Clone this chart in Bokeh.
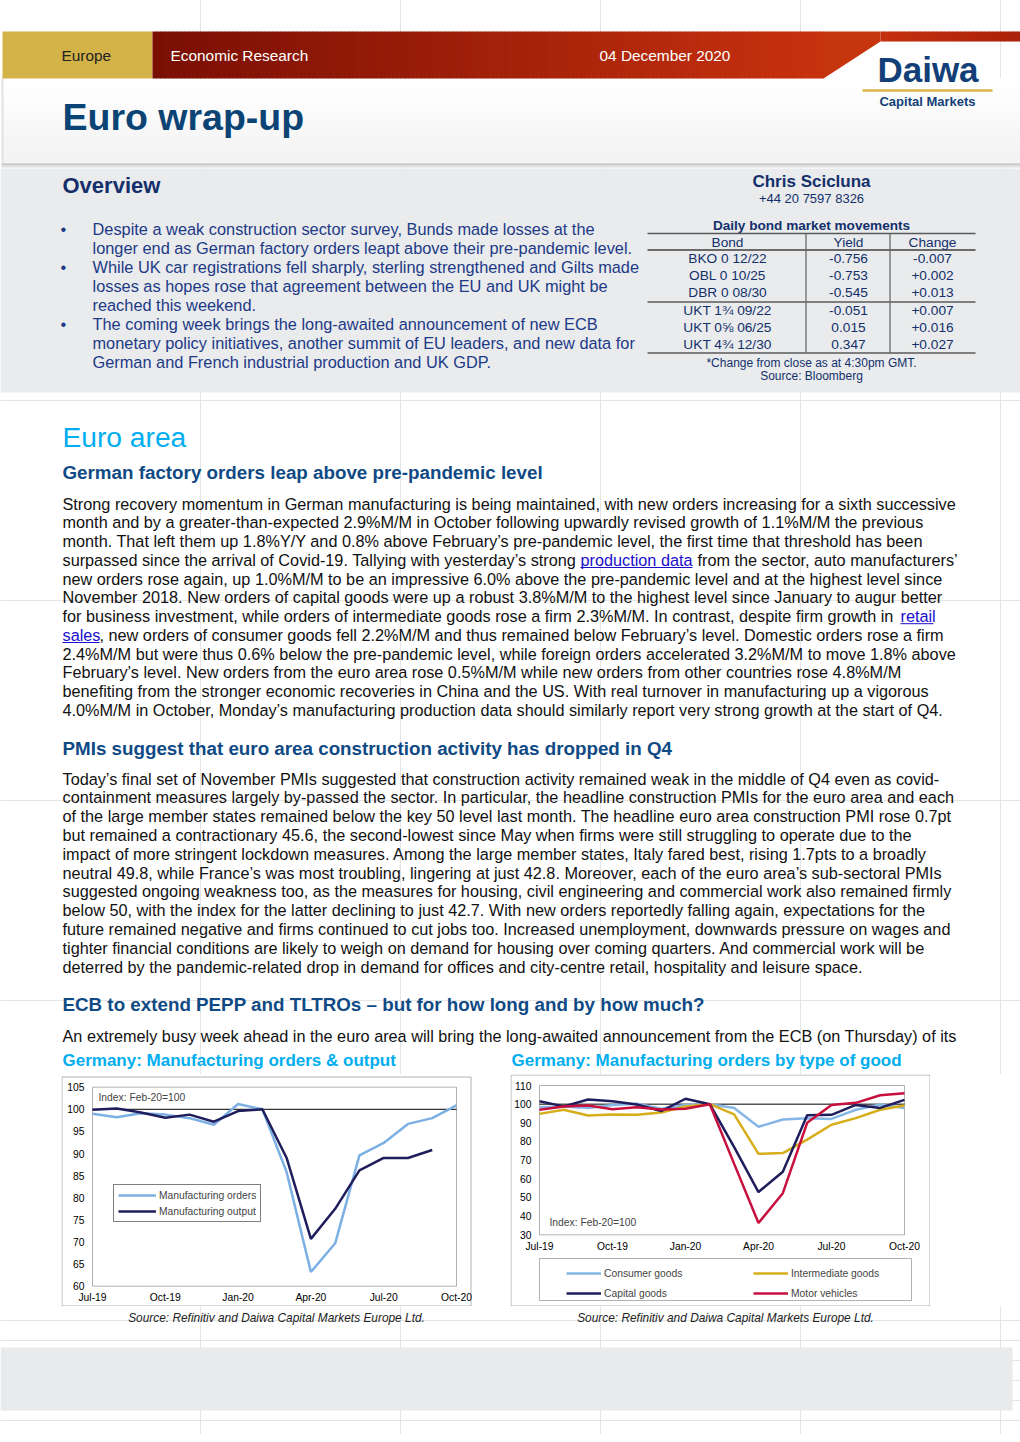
from bokeh.plotting import figure
from bokeh.models import (Range1d, FixedTicker, Legend, LegendItem, Label,
                          BoxAnnotation, Spacer)
from bokeh.layouts import column, row
from bokeh.core.properties import value
from bokeh.embed import file_html
from bokeh.resources import INLINE

# ---------------- data ----------------
months = ["Jul-19", "Aug-19", "Sep-19", "Oct-19", "Nov-19", "Dec-19", "Jan-20", "Feb-20",
          "Mar-20", "Apr-20", "May-20", "Jun-20", "Jul-20", "Aug-20", "Sep-20", "Oct-20"]

mfg_orders = [99.0, 98.2, 99.1, 98.8, 98.0, 96.5, 101.2, 100.0, 85.8, 63.2, 69.7, 89.6, 92.4, 96.7, 98.0, 100.9]
mfg_output = [99.9, 100.2, 99.3, 98.1, 98.8, 97.2, 99.6, 100.0, 89.0, 70.7, 77.5, 86.2, 89.0, 89.0, 90.8]

consumer_goods = [98.4, 98.7, 98.0, 99.6, 100.2, 97.5, 99.6, 100.0, 98.0, 87.9, 91.8, 92.5, 92.1, 97.0, 99.8, 97.9]
intermediate_goods = [94.8, 97.0, 93.9, 94.5, 94.3, 95.5, 98.8, 100.0, 94.5, 73.4, 73.8, 81.0, 89.0, 92.5, 97.0, 99.3]
capital_goods = [101.6, 98.8, 102.5, 101.6, 99.8, 96.3, 102.9, 100.0, 77.0, 52.9, 63.8, 94.1, 94.3, 99.6, 98.0, 102.3]
motor_vehicles = [97.0, 98.8, 99.3, 97.3, 98.4, 97.1, 97.5, 100.0, 68.0, 36.3, 52.3, 90.0, 99.5, 100.7, 104.8, 105.9]

chart1_yticks = [60, 65, 70, 75, 80, 85, 90, 95, 100, 105]
chart2_yticks = [30, 40, 50, 60, 70, 80, 90, 100, 110]
xtick_idx = [0, 3, 6, 9, 12, 15]

bonds = ["BKO 0 12/22", "OBL 0 10/25", "DBR 0 08/30", "UKT 1¾ 09/22", "UKT 0⅝ 06/25", "UKT 4¾ 12/30"]
yields = ["-0.756", "-0.753", "-0.545", "-0.051", "0.015", "0.347"]
changes = ["-0.007", "+0.002", "+0.013", "+0.007", "+0.016", "+0.027"]

FONT = "Liberation Sans"


def txt(p, xs, ys, texts, size, color, style="normal", align="left", font=FONT, baseline="middle"):
    p.text(x=xs, y=ys, text=texts, text_font=value(font), text_font_size=f"{size}px",
           text_color=color, text_font_style=style, text_align=align, text_baseline=baseline)


def lerp(c0, c1, t):
    return "#%02x%02x%02x" % tuple(int(round(a + (b - a) * t)) for a, b in zip(c0, c1))


TOP_H = 1074
MID_H = 232
BOT_H = 128

# ---------------- page (top part) ----------------
P = figure(width=1020, height=TOP_H, x_range=Range1d(0, 1020), y_range=Range1d(TOP_H, 0),
           output_backend="svg", toolbar_location=None, min_border=0,
           x_axis_location=None, y_axis_location=None, outline_line_color=None)

# header light area
n = 12
for i in range(n):
    y0 = 78 + i * (85 / n)
    P.quad(left=[2], right=[1020], top=[y0], bottom=[y0 + 85 / n + 0.5],
           fill_color=lerp((255, 255, 255), (243, 243, 244), i / (n - 1)), line_color=None)
P.quad(left=[1], right=[3], top=[78], bottom=[163], fill_color="#e2e2e2", line_color=None)
P.quad(left=[1], right=[1020], top=[163], bottom=[165], fill_color="#c4c4c4", line_color=None)
P.quad(left=[1], right=[1020], top=[165], bottom=[167], fill_color="#dedede", line_color=None)

# gold box
P.quad(left=[2], right=[152], top=[31], bottom=[78], fill_color="#d3b247", line_color=None)
# red gradient band
lefts, rights, cols = [], [], []
x = 152
while x < 823:
    lefts.append(x)
    rights.append(min(x + 4, 823) + 0.5)
    cols.append(lerp((122, 15, 4), (200, 50, 14), (x - 152) / (823 - 152)))
    x += 4
P.quad(left=lefts, right=rights, top=[31] * len(lefts), bottom=[78] * len(lefts),
       fill_color=cols, line_color=None)
P.patch(x=[823, 880, 880, 823], y=[31, 31, 41, 78], fill_color="#c7350f", line_color=None)
lefts, rights, cols = [], [], []
x = 880
while x < 1020:
    lefts.append(x)
    rights.append(x + 4.5)
    cols.append(lerp((196, 48, 13), (170, 34, 10), (x - 880) / 140))
    x += 4
P.quad(left=lefts, right=rights, top=[31] * len(lefts), bottom=[41] * len(lefts),
       fill_color=cols, line_color=None)

txt(P, [61], [55], ["Europe"], 15.4, "#222222")
txt(P, [170], [55], ["Economic Research"], 15.4, "#ffffff")
txt(P, [599], [55], ["04 December 2020"], 15.4, "#ffffff")

# logo
txt(P, [927.5], [69], ["Daiwa"], 35, "#123f78", style="bold", align="center")
P.segment(x0=[862], y0=[90], x1=[992], y1=[90], line_color="#d9b54a", line_width=2.5)
txt(P, [927], [101], ["Capital Markets"], 13, "#123f78", style="bold", align="center")

# title
txt(P, [62], [116], ["Euro wrap-up"], 37.5, "#0b4474", style="bold")

# overview box
P.quad(left=[0], right=[1020], top=[168], bottom=[392], fill_color="#e9ebed", line_color=None)
txt(P, [62], [185], ["Overview"], 22, "#142f6a", style="bold")

bullet_lines = [
    "Despite a weak construction sector survey, Bunds made losses at the",
    "longer end as German factory orders leapt above their pre-pandemic level.",
    "While UK car registrations fell sharply, sterling strengthened and Gilts made",
    "losses as hopes rose that agreement between the EU and UK might be",
    "reached this weekend.",
    "The coming week brings the long-awaited announcement of new ECB",
    "monetary policy initiatives, another summit of EU leaders, and new data for",
    "German and French industrial production and UK GDP.",
]
bullet_y = [228, 247, 266, 285, 304, 323, 342, 361]
txt(P, [92] * 8, bullet_y, bullet_lines, 16.35, "#1d3a86")
txt(P, [60, 60, 60], [228, 266, 323], ["•", "•", "•"], 16.35, "#1d3a86")

# right panel: contact + table
txt(P, [811], [181], ["Chris Scicluna"], 17, "#13306b", style="bold", align="center")
txt(P, [811], [198], ["+44 20 7597 8326"], 13, "#13306b", align="center")
txt(P, [811], [224.5], ["Daily bond market movements"], 13.6, "#13306b", style="bold", align="center")
P.segment(x0=[647, 647, 647], y0=[233, 301.5, 352.5], x1=[975, 975, 975], y1=[233, 301.5, 352.5],
          line_color="#5a5a5a", line_width=1.3)
P.segment(x0=[647], y0=[249.5], x1=[975], y1=[249.5], line_color="#6a6a6a", line_width=2.2)
P.segment(x0=[805.5, 889.5], y0=[233, 233], x1=[805.5, 889.5], y1=[352.5, 352.5],
          line_color="#6a6a6a", line_width=1.3)
txt(P, [727, 848, 932], [241.5] * 3, ["Bond", "Yield", "Change"], 13.7, "#13306b", align="center")
row_y = [258, 275, 292, 310, 327, 344]
txt(P, [727] * 6, row_y, bonds, 13.7, "#13306b", align="center")
txt(P, [848] * 6, row_y, yields, 13.7, "#13306b", align="center")
txt(P, [932] * 6, row_y, changes, 13.7, "#13306b", align="center")
txt(P, [811], [362], ["*Change from close as at 4:30pm GMT."], 12, "#13306b", align="center")
txt(P, [811], [375], ["Source: Bloomberg"], 12, "#13306b", align="center")

# Euro area
txt(P, [62], [436], ["Euro area"], 28.2, "#00aeef")
SUB = 18.8
txt(P, [62], [472], ["German factory orders leap above pre-pandemic level"], SUB, "#0f4a85", style="bold")

BODY = 16.25
BLACK = "#111111"
LINK = "#1a0dcc"
para1 = [
    "Strong recovery momentum in German manufacturing is being maintained, with new orders increasing for a sixth successive",
    "month and by a greater-than-expected 2.9%M/M in October following upwardly revised growth of 1.1%M/M the previous",
    "month. That left them up 1.8%Y/Y and 0.8% above February’s pre-pandemic level, the first time that threshold has been",
    "surpassed since the arrival of Covid-19. Tallying with yesterday’s strong ",
    "new orders rose again, up 1.0%M/M to be an impressive 6.0% above the pre-pandemic level and at the highest level since",
    "November 2018. New orders of capital goods were up a robust 3.8%M/M to the highest level since January to augur better",
    "for business investment, while orders of intermediate goods rose a firm 2.3%M/M. In contrast, despite firm growth in ",
    "",
    "2.4%M/M but were thus 0.6% below the pre-pandemic level, while foreign orders accelerated 3.2%M/M to move 1.8% above",
    "February’s level. New orders from the euro area rose 0.5%M/M while new orders from other countries rose 4.8%M/M",
    "benefiting from the stronger economic recoveries in China and the US. With real turnover in manufacturing up a vigorous",
    "4.0%M/M in October, Monday’s manufacturing production data should similarly report very strong growth at the start of Q4.",
]
para1_y = [503, 521.8, 540.5, 559.3, 578, 596.8, 615.5, 634.3, 653, 671.8, 690.5, 709.3]
txt(P, [62] * 12, para1_y, para1, BODY, BLACK)
txt(P, [697], [559.3], ["from the sector, auto manufacturers’"], BODY, BLACK)
txt(P, [99], [634.3], [", new orders of consumer goods fell 2.2%M/M and thus remained below February’s level. Domestic orders rose a firm"], BODY, BLACK)
txt(P, [580, 900, 62], [559.3, 615.5, 634.3], ["production data", "retail", "sales"], BODY, LINK)
P.segment(x0=[580, 900, 62], y0=[567, 623.2, 642], x1=[692, 933, 99], y1=[567, 623.2, 642],
          line_color=LINK, line_width=1)

txt(P, [62], [748], ["PMIs suggest that euro area construction activity has dropped in Q4"], SUB, "#0f4a85", style="bold")
para2 = [
    "Today’s final set of November PMIs suggested that construction activity remained weak in the middle of Q4 even as covid-",
    "containment measures largely by-passed the sector. In particular, the headline construction PMIs for the euro area and each",
    "of the large member states remained below the key 50 level last month. The headline euro area construction PMI rose 0.7pt",
    "but remained a contractionary 45.6, the second-lowest since May when firms were still struggling to operate due to the",
    "impact of more stringent lockdown measures. Among the large member states, Italy fared best, rising 1.7pts to a broadly",
    "neutral 49.8, while France’s was most troubling, lingering at just 42.8. Moreover, each of the euro area’s sub-sectoral PMIs",
    "suggested ongoing weakness too, as the measures for housing, civil engineering and commercial work also remained firmly",
    "below 50, with the index for the latter declining to just 42.7. With new orders reportedly falling again, expectations for the",
    "future remained negative and firms continued to cut jobs too. Increased unemployment, downwards pressure on wages and",
    "tighter financial conditions are likely to weigh on demand for housing over coming quarters. And commercial work will be",
    "deterred by the pandemic-related drop in demand for offices and city-centre retail, hospitality and leisure space.",
]
para2_y = [778 + i * 18.8 for i in range(11)]
txt(P, [62] * 11, para2_y, para2, BODY, BLACK)

txt(P, [62], [1004], ["ECB to extend PEPP and TLTROs – but for how long and by how much?"], SUB, "#0f4a85", style="bold")
txt(P, [62], [1035], ["An extremely busy week ahead in the euro area will bring the long-awaited announcement from the ECB (on Thursday) of its"], BODY, BLACK)

txt(P, [62], [1060], ["Germany: Manufacturing orders & output"], 17, "#00aeef", style="bold")
txt(P, [511], [1060], ["Germany: Manufacturing orders by type of good"], 17, "#00aeef", style="bold")


# ---------------- charts ----------------
# the frame fills each chart canvas; both axes are pinned inside it
CV_TOP = TOP_H
CV_BOT = TOP_H + MID_H


def style_chart(p, yticks, xfix):
    p.grid.visible = False
    p.yaxis.ticker = FixedTicker(ticks=yticks)
    p.xaxis.ticker = FixedTicker(ticks=xtick_idx)
    p.xaxis.major_label_overrides = {i: months[i] for i in xtick_idx}
    p.xaxis.fixed_location = xfix
    p.yaxis.fixed_location = 0
    for ax in (p.xaxis, p.yaxis):
        ax.axis_line_color = None
        ax.major_tick_line_color = None
        ax.minor_tick_line_color = None
        ax.major_tick_in = 0
        ax.major_tick_out = 0
        ax.minor_tick_in = 0
        ax.minor_tick_out = 0
        ax.major_label_text_font = FONT
        ax.major_label_text_font_size = "10.3px"
        ax.major_label_text_color = "#000000"
    p.yaxis.major_label_standoff = 8
    p.xaxis.major_label_standoff = 6


class Geo:
    def __init__(self, cv_left, cv_right, px0, px15, py_hi, py_lo, v_hi, v_lo):
        self.cv_left = cv_left
        self.ppx = (px15 - px0) / 15.0
        self.ppu = (py_lo - py_hi) / float(v_hi - v_lo)
        self.x0 = -(px0 - cv_left) / self.ppx
        self.x1 = 15 + (cv_right - px15) / self.ppx
        self.py_hi, self.v_hi = py_hi, v_hi
        self.y0 = v_lo - (CV_BOT - py_lo) / self.ppu
        self.y1 = v_hi + (py_hi - CV_TOP) / self.ppu
        self.width = cv_right - cv_left

    def X(self, px):
        return self.x0 + (px - self.cv_left) / self.ppx

    def Y(self, py):
        return self.v_hi - (py - self.py_hi) / self.ppu


def make_fig(g):
    return figure(width=g.width, height=MID_H, x_range=Range1d(g.x0, g.x1), y_range=Range1d(g.y0, g.y1),
                  output_backend="svg", toolbar_location=None, min_border=0,
                  min_border_left=0, min_border_right=0, min_border_top=0, min_border_bottom=0,
                  outline_line_color=None)


def frame_box(g, l, r, t, b):
    return BoxAnnotation(left=g.X(l), right=g.X(r), top=g.Y(t), bottom=g.Y(b), fill_color=None,
                         line_color="#000000", line_width=1, level="underlay")


x_all = list(range(len(months)))

# chart 1: canvas x 61..476 (box to 471) ; plot area x 92..456, 105 at y 1086.7, 60 at y 1285.7
C1L, C1R = 61, 476
g1 = Geo(C1L, C1R, 92, 456, 1086.7, 1285.7, 105, 60)
c1 = make_fig(g1)
style_chart(c1, chart1_yticks, 60)
c1.add_layout(frame_box(g1, 61.5, 470.5, 1076.5, 1305.5))
c1.add_layout(BoxAnnotation(left=0, right=15, bottom=60, top=105, fill_color=None,
                            line_color="#000000", line_width=1, level="underlay"))
c1.segment(x0=[0], y0=[100], x1=[15], y1=[100], line_color="#000000", line_width=1)
r_ord = c1.line(x_all, mfg_orders, line_color="#7cb0e4", line_width=2.5)
r_out = c1.line(x_all[:len(mfg_output)], mfg_output, line_color="#1f1d5c", line_width=2.5)
leg1 = Legend(items=[LegendItem(label="Manufacturing orders", renderers=[r_ord]),
                     LegendItem(label="Manufacturing output", renderers=[r_out])],
              location=(113 - C1L, CV_BOT - 1222), margin=0, padding=4, spacing=4, glyph_width=38,
              glyph_height=12, label_height=12, label_standoff=3, label_text_font=FONT,
              label_text_font_size="10.3px", border_line_color="#000000", border_line_width=1,
              background_fill_color="#ffffff", background_fill_alpha=1)
c1.add_layout(leg1)
c1.add_layout(Label(x=98 - C1L, y=CV_BOT - 1097, x_units="screen", y_units="screen",
                    text="Index: Feb-20=100", text_font=FONT, text_font_size="10.3px",
                    text_baseline="middle"))

# chart 2: canvas x 510..930 ; plot area x 539..904, 110 at y 1085, 30 at y 1234.3
C2L, C2R = 510, 930
g2 = Geo(C2L, C2R, 539, 904, 1085, 1234.3, 110, 30)
c2 = make_fig(g2)
style_chart(c2, chart2_yticks, 30)
c2.add_layout(frame_box(g2, 510.5, 929.5, 1074.5, 1305.5))
c2.add_layout(BoxAnnotation(left=0, right=15, bottom=30, top=110, fill_color=None,
                            line_color="#000000", line_width=1, level="underlay"))
c2.add_layout(frame_box(g2, 539, 911, 1258, 1300))   # legend frame
c2.segment(x0=[0], y0=[100], x1=[15], y1=[100], line_color="#000000", line_width=1)
r_con = c2.line(x_all, consumer_goods, line_color="#86b6e6", line_width=2.5)
r_int = c2.line(x_all, intermediate_goods, line_color="#d6ad1a", line_width=2.5)
r_cap = c2.line(x_all, capital_goods, line_color="#1f1d5c", line_width=2.5)
r_mot = c2.line(x_all, motor_vehicles, line_color="#c8103e", line_width=2.5)
leg_kw = dict(margin=0, padding=4, spacing=8, glyph_width=35, glyph_height=12, label_height=12,
              label_standoff=3, label_text_font=FONT, label_text_font_size="10.3px",
              border_line_color=None, background_fill_alpha=0)
legL = Legend(items=[LegendItem(label="Consumer goods", renderers=[r_con]),
                     LegendItem(label="Capital goods", renderers=[r_cap])],
              location=(566 - C2L, CV_BOT - 1299), **leg_kw)
legR = Legend(items=[LegendItem(label="Intermediate goods", renderers=[r_int]),
                     LegendItem(label="Motor vehicles", renderers=[r_mot])],
              location=(753 - C2L, CV_BOT - 1299), **leg_kw)
c2.add_layout(legL)
c2.add_layout(legR)
c2.add_layout(Label(x=549 - C2L, y=CV_BOT - 1222, x_units="screen", y_units="screen",
                    text="Index: Feb-20=100", text_font=FONT, text_font_size="10.3px",
                    text_baseline="middle"))

mid = row(Spacer(width=C1L, height=MID_H), c1, Spacer(width=C2L - C1R, height=MID_H), c2,
          Spacer(width=1020 - C2R, height=MID_H))

# ---------------- bottom ----------------
B = figure(width=1020, height=BOT_H, x_range=Range1d(0, 1020),
           y_range=Range1d(CV_BOT + BOT_H, CV_BOT),
           output_backend="svg", toolbar_location=None, min_border=0,
           x_axis_location=None, y_axis_location=None, outline_line_color=None)
txt(B, [276, 725], [1317, 1317], ["Source: Refinitiv and Daiwa Capital Markets Europe Ltd."] * 2,
    11.9, "#222222", style="italic", align="center")
B.quad(left=[0], right=[1012], top=[1347], bottom=[1410], fill_color="#e9eaec", line_color=None)

page = column(P, mid, B)
open("out.html", "w").write(file_html(page, INLINE))
